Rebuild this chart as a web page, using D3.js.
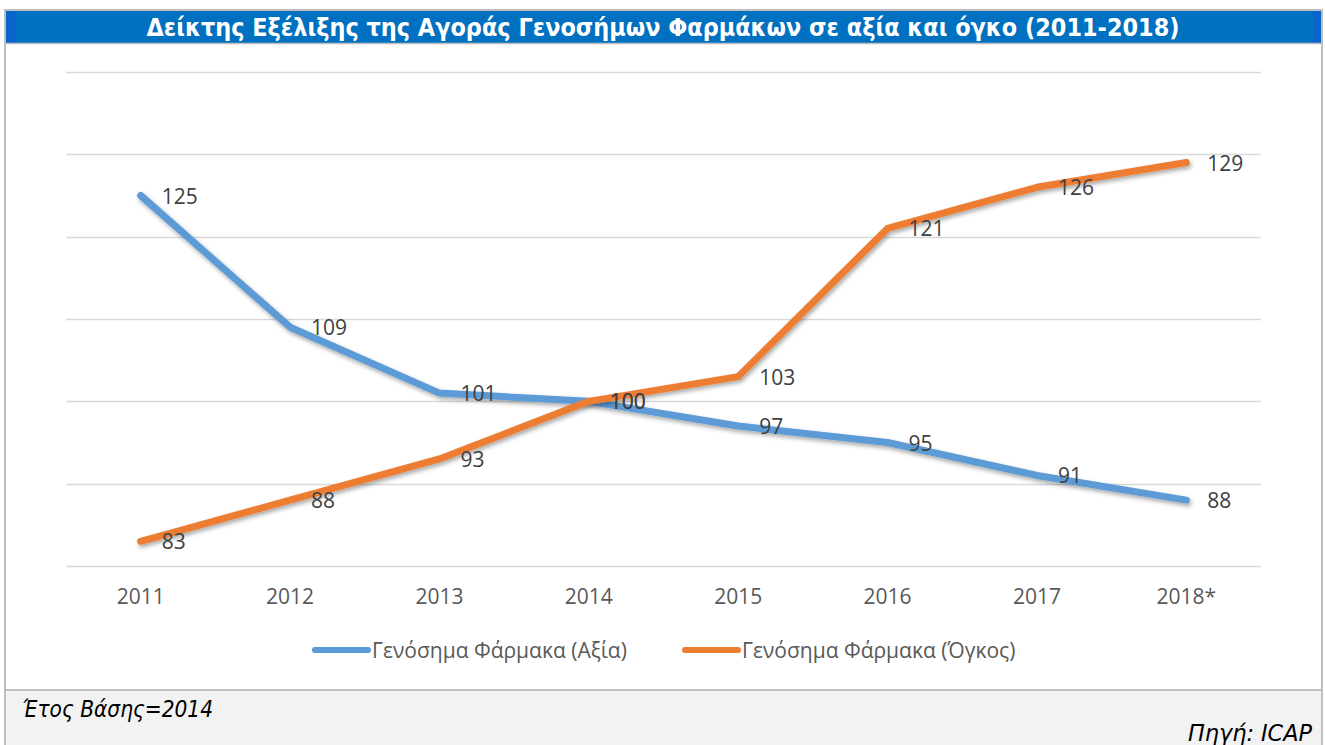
<!DOCTYPE html>
<html>
<head>
<meta charset="utf-8">
<script src="https://cdn.jsdelivr.net/npm/d3@7"></script>
<style>
  body { margin: 0; background: #fff; }
  svg { display: block; }
</style>
</head>
<body>
<svg id="chart"></svg>
<script>
// data
const years = ['2011', '2012', '2013', '2014', '2015', '2016', '2017', '2018*'];
const valueIdx = [125, 109, 101, 100, 97, 95, 91, 88];     // Αξία
const volumeIdx = [83, 88, 93, 100, 103, 121, 126, 129];   // Όγκος
const seriesNames = ['Γενόσημα Φάρμακα (Αξία)', 'Γενόσημα Φάρμακα (Όγκος)'];
const yTicks = [80, 90, 100, 110, 120, 130, 140];

const W = 1325, H = 745;
const svg = d3.select('#chart').attr('width', W).attr('height', H);
const font = '"Open Sans", sans-serif';

// frame
svg.append('rect').attr('x', 5).attr('y', 10).attr('width', 1317).attr('height', 740)
  .attr('fill', '#fff').attr('stroke', '#bfbfbf').attr('stroke-width', 2);

// title bar
svg.append('rect').attr('x', 6).attr('y', 11).attr('width', 1315).attr('height', 32).attr('fill', '#0070c0');
svg.append('rect').attr('x', 6).attr('y', 11).attr('width', 9).attr('height', 32).attr('fill', '#0a62cc');
svg.append('rect').attr('x', 1313).attr('y', 11).attr('width', 8).attr('height', 32).attr('fill', '#0a62cc');
svg.append('line').attr('x1', 6).attr('x2', 1321).attr('y1', 43.5).attr('y2', 43.5)
  .attr('stroke', '#bfbfbf').attr('stroke-width', 1.5);
svg.append('text')
  .attr('x', 663).attr('y', 36)
  .attr('text-anchor', 'middle')
  .attr('textLength', 1033).attr('lengthAdjust', 'spacingAndGlyphs')
  .style('font-family', '"DejaVu Sans", sans-serif')
  .style('font-weight', 'bold')
  .style('font-size', '24px')
  .style('fill', '#fff')
  .text('Δείκτης Εξέλιξης της Αγοράς Γενοσήμων Φαρμάκων σε αξία και όγκο (2011-2018)');

// footer
svg.append('rect').attr('x', 6).attr('y', 690).attr('width', 1315).attr('height', 60).attr('fill', '#f2f2f2');
svg.append('line').attr('x1', 6).attr('x2', 1321).attr('y1', 690).attr('y2', 690)
  .attr('stroke', '#bfbfbf').attr('stroke-width', 2);
svg.append('text')
  .attr('x', 22).attr('y', 717)
  .attr('textLength', 191).attr('lengthAdjust', 'spacingAndGlyphs')
  .style('font-family', '"DejaVu Sans", sans-serif')
  .style('font-style', 'italic')
  .style('font-size', '23px')
  .style('fill', '#000')
  .text('Έτος Βάσης=2014');
svg.append('text')
  .attr('x', 1312).attr('y', 741)
  .attr('text-anchor', 'end')
  .attr('textLength', 124).attr('lengthAdjust', 'spacingAndGlyphs')
  .style('font-family', '"DejaVu Sans", sans-serif')
  .style('font-style', 'italic')
  .style('font-size', '23px')
  .style('fill', '#000')
  .text('Πηγή: ICAP');

// scales
const x = d3.scaleBand().domain(years).range([66, 1261]);
const y = d3.scaleLinear().domain([80, 140]).range([566, 72]);
const cx = d => x(d) + x.bandwidth() / 2;

// gridlines
svg.append('g')
  .selectAll('line')
  .data(yTicks)
  .join('line')
  .attr('x1', 66).attr('x2', 1261)
  .attr('y1', d => Math.round(y(d)) + 0.5).attr('y2', d => Math.round(y(d)) + 0.5)
  .attr('stroke', '#d9d9d9').attr('stroke-width', 1.5);

// x axis
const xAxis = svg.append('g')
  .attr('transform', 'translate(0,566)')
  .call(d3.axisBottom(x).tickSize(0).tickPadding(23));
xAxis.select('.domain').remove();
xAxis.selectAll('text')
  .style('font-family', font)
  .style('font-size', '21px')
  .style('fill', '#595959');

// shadow
const defs = svg.append('defs');
const f = defs.append('filter').attr('id', 'shadow').attr('x', '-10%').attr('y', '-10%')
  .attr('width', '120%').attr('height', '130%');
f.append('feDropShadow').attr('dx', 1.5).attr('dy', 2.5).attr('stdDeviation', 2)
  .attr('flood-color', '#000').attr('flood-opacity', 0.35);

const line = d3.line().x((d, i) => cx(years[i])).y(d => y(d));
const series = [
  {name: seriesNames[0], values: valueIdx, color: '#5b9bd5'},
  {name: seriesNames[1], values: volumeIdx, color: '#ed7d31'}
];

series.forEach(s => {
  svg.append('path')
    .datum(s.values)
    .attr('d', line)
    .attr('fill', 'none')
    .attr('stroke', s.color)
    .attr('stroke-width', 7)
    .attr('stroke-linecap', 'round')
    .attr('stroke-linejoin', 'round')
    .attr('filter', 'url(#shadow)');
});

series.forEach(s => {
  svg.append('g')
    .selectAll('text')
    .data(s.values)
    .join('text')
    .attr('x', (d, i) => cx(years[i]) + 21)
    .attr('y', d => y(d) + 8)
    .style('font-family', font)
    .style('font-size', '21px')
    .style('fill', '#404040')
    .text(d => d);
});

// legend
const legendX = [313, 683];
series.forEach((s, i) => {
  const g = svg.append('g').attr('transform', `translate(${legendX[i]},650)`);
  g.append('line').attr('x1', 2).attr('x2', 55).attr('y1', 0).attr('y2', 0)
    .attr('stroke', s.color).attr('stroke-width', 6).attr('stroke-linecap', 'round');
  g.append('text').attr('x', 59).attr('y', 8)
    .style('font-family', font)
    .style('font-size', '21px')
    .style('fill', '#595959')
    .text(s.name);
});
</script>
</body>
</html>
